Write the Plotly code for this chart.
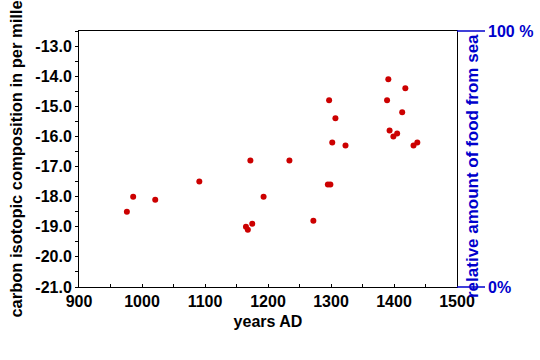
import plotly.graph_objects as go

years = [976, 986, 1021, 1091, 1165, 1168, 1172, 1175, 1193, 1234, 1272, 1295, 1299,
         1297, 1302, 1307, 1323, 1389, 1391, 1393, 1399, 1405, 1413, 1418, 1431, 1437]
delta13c = [-18.5, -18.0, -18.1, -17.5, -19.0, -19.1, -16.8, -18.9, -18.0, -16.8, -18.8, -17.6, -17.6,
            -14.8, -16.2, -15.4, -16.3, -14.8, -14.1, -15.8, -16.0, -15.9, -15.2, -14.4, -16.3, -16.2]

x_ticks = [900, 1000, 1100, 1200, 1300, 1400, 1500]
y_ticks = [-21, -20, -19, -18, -17, -16, -15, -14, -13]
sea_labels = ["0%", "100 %"]

BLUE = "#0000cc"
FONT = "Liberation Sans, Arial, sans-serif"

fig = go.Figure()
fig.add_trace(go.Scatter(x=years, y=delta13c, mode="markers",
                         marker=dict(color="#cc0000", size=6), showlegend=False,
                         cliponaxis=False))

fig.update_layout(
    width=540, height=360,
    margin=dict(l=79, r=83, t=31, b=73),
    paper_bgcolor="white", plot_bgcolor="white",
    font=dict(family=FONT, size=16, color="black", weight="bold"),
    xaxis=dict(range=[900, 1500], tickvals=x_ticks, ticktext=[str(v) for v in x_ticks],
               showline=True, linecolor="black", linewidth=1, mirror=True,
               ticks="inside", ticklen=3, tickcolor="black",
               minor=dict(ticks="inside", dtick=50, tick0=900, ticklen=3, tickcolor="black"),
               showgrid=False, zeroline=False,
               tickfont=dict(weight="bold"),
               title=dict(text="years AD", standoff=6, font=dict(size=16, weight="bold"))),
    yaxis=dict(range=[-21, -12.5], tickvals=y_ticks, ticktext=[f"{v:.1f}" for v in y_ticks],
               showline=True, linecolor="black", linewidth=1, mirror=True,
               ticks="outside", ticklen=3, tickcolor="black",
               minor=dict(ticks="outside", dtick=0.5, tick0=-21, ticklen=3, tickcolor="black"),
               showgrid=False, zeroline=False,
               tickfont=dict(weight="bold"),
               title=dict(text="carbon isotopic composition in per mille", standoff=8,
                          font=dict(size=16.5, weight="bold"))),
)

# right-hand "relative amount of food from sea" scale
tick_w = 28 / 378
for yy, lab in zip([0, 1], sea_labels):
    fig.add_shape(type="line", xref="paper", yref="paper", x0=1, x1=1 + tick_w, y0=yy, y1=yy,
                  line=dict(color=BLUE, width=1.5))
    fig.add_annotation(xref="paper", yref="paper", x=1 + tick_w, y=yy, text=lab,
                       showarrow=False, xanchor="left", yanchor="middle", xshift=1,
                       font=dict(color=BLUE, size=16, family=FONT, weight="bold"))
fig.add_annotation(xref="paper", yref="paper", x=1, y=0.5, xshift=15, yshift=-7,
                   text="relative amount of food from sea", textangle=-90,
                   showarrow=False, xanchor="center", yanchor="middle",
                   font=dict(color=BLUE, size=17, family=FONT, weight="bold"))

fig.write_html("out.html")
